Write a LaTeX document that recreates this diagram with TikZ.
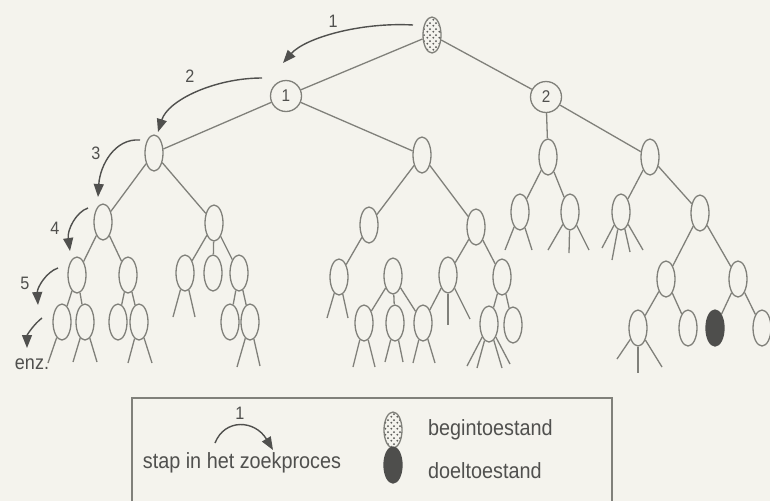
\documentclass[tikz,border=0pt]{standalone}
\usepackage{fontspec}
\setmainfont{Liberation Sans}[FakeStretch=0.9]
\usetikzlibrary{shapes.geometric,arrows.meta,patterns.meta}

\definecolor{paper}{RGB}{244,243,237}
\definecolor{linegray}{RGB}{128,128,122}
\definecolor{ink}{RGB}{80,80,78}
\definecolor{goalfill}{RGB}{78,78,76}

% stippled fill for the start state
\tikzdeclarepattern{
  name=stipple, type=uncolored,
  tile size={(6pt,6pt)},
  bottom left={(0pt,0pt)}, top right={(6pt,6pt)},
  code={\draw[line width=0.5pt] (1.5pt,1.5pt) circle[radius=0.8pt];
        \draw[line width=0.5pt] (4.5pt,4.5pt) circle[radius=0.8pt];}
}

\tikzset{
  state/.style={ellipse, draw=linegray, line width=1.3pt,
    minimum width=18pt, minimum height=36pt, inner sep=0pt},
  numbered/.style={circle, draw=linegray, line width=1.3pt,
    minimum size=31pt, inner sep=0pt, text=ink,
    font=\fontsize{17}{17}\selectfont},
  startstate/.style={state, pattern=stipple, pattern color=ink},
  goalstate/.style={state, fill=goalfill, draw=goalfill},
  edge/.style={draw=linegray, line width=1.3pt},
  steparrow/.style={draw=ink, line width=1.4pt,
    -{Triangle[length=13pt,width=10pt]}},
  lbl/.style={text=ink, inner sep=0pt, font=\fontsize{18}{18}\selectfont},
  legendtext/.style={text=ink, inner sep=0pt, font=\fontsize{22}{22}\selectfont},
}

% open branches hanging below a node: \stubs{node}{x1/y1, x2/y2, ...}
\newcommand\stubs[2]{%
  \foreach \sx/\sy [count=\k] in {#2} {%
    \coordinate (#1-s\k) at (\sx,\sy);
    \draw[edge] (#1) -- (#1-s\k);
  }}

\begin{document}
\begin{tikzpicture}[x=1pt,y=-1pt]
\fill[paper] (0,0) rectangle (770,501);
\useasboundingbox (0,0) rectangle (770,501);

% ---- search tree ----
\node[startstate] (root) at (432,35) {};
\node[numbered] (c1) at (286,96) {1};
\node[numbered] (c2) at (546,97) {2};

\node[state] (A) at (154,153) {};
\node[state] (B) at (422,155) {};
\node[state] (C) at (548,157) {};
\node[state] (D) at (650,157) {};

% left part under A
\node[state] (A1)   at (103,222) {};
\node[state] (A2)   at (214,223) {};
\node[state] (A11)  at (77,275) {};
\node[state] (A12)  at (128,275) {};
\node[state] (A111) at (62,322) {};
\node[state] (A112) at (85,322) {};
\node[state] (A121) at (118,322) {};
\node[state] (A122) at (139,322) {};
\node[state] (A21)  at (185,273) {};
\node[state] (A22)  at (213,273) {};
\node[state] (A23)  at (239,273) {};
\node[state] (A231) at (230,322) {};
\node[state] (A232) at (250,322) {};

% part under B
\node[state] (B1)   at (369,225) {};
\node[state] (B2)   at (476,227) {};
\node[state] (B11)  at (339,277) {};
\node[state] (B12)  at (393,276) {};
\node[state] (B121) at (364,323) {};
\node[state] (B122) at (395,323) {};
\node[state] (BX)   at (423,323) {};
\node[state] (B21)  at (448,275) {};
\node[state] (B22)  at (502,277) {};
\node[state] (B221) at (489,324) {};
\node[state] (B222) at (513,325) {};

% part under C and D
\node[state] (C1)   at (520,212) {};
\node[state] (C2)   at (570,212) {};
\node[state] (D1)   at (621,212) {};
\node[state] (D2)   at (700,213) {};
\node[state] (D21)  at (666,279) {};
\node[state] (D22)  at (738,279) {};
\node[state] (D211) at (638,328) {};
\node[state] (D212) at (688,328) {};
\node[goalstate] (goal) at (715,328) {};
\node[state] (D222) at (762,328) {};

% branches
\draw[edge] (root) -- (c1);
\draw[edge] (root) -- (c2);
\draw[edge] (c1) -- (A);
\draw[edge] (c1) -- (B);
\draw[edge] (c2) -- (C);
\draw[edge] (c2) -- (D);
\draw[edge] (A) -- (A1);
\draw[edge] (A) -- (A2);
\draw[edge] (A1) -- (A11);
\draw[edge] (A1) -- (A12);
\draw[edge] (A11) -- (A111);
\draw[edge] (A11) -- (A112);
\draw[edge] (A12) -- (A121);
\draw[edge] (A12) -- (A122);
\draw[edge] (A2) -- (A21);
\draw[edge] (A2) -- (A22);
\draw[edge] (A2) -- (A23);
\draw[edge] (A23) -- (A231);
\draw[edge] (A23) -- (A232);
\draw[edge] (B) -- (B1);
\draw[edge] (B) -- (B2);
\draw[edge] (B1) -- (B11);
\draw[edge] (B12) -- (B121);
\draw[edge] (B12) -- (B122);
\draw[edge] (B12) -- (BX);
\draw[edge] (B2) -- (B21);
\draw[edge] (B2) -- (B22);
\draw[edge] (B21) -- (BX);
\draw[edge] (B22) -- (B221);
\draw[edge] (B22) -- (B222);
\draw[edge] (D) -- (D1);
\draw[edge] (D) -- (D2);
\draw[edge] (C) -- (C1);
\draw[edge] (C) -- (C2);
\draw[edge] (D2) -- (D21);
\draw[edge] (D2) -- (D22);
\draw[edge] (D21) -- (D211);
\draw[edge] (D21) -- (D212);
\draw[edge] (D22) -- (goal);
\draw[edge] (D22) -- (D222);

% open branches
\stubs{A111}{48/363}
\stubs{A112}{73/362, 97/362}
\stubs{A122}{128/363, 152/363}
\stubs{A21}{173/317, 195/317}
\stubs{A232}{237/367, 260/366}
\stubs{B11}{327/318, 348/318}
\stubs{B121}{353/367, 375/367}
\stubs{B122}{385/362, 403/362}
\stubs{BX}{413/363, 435/363}
\stubs{B21}{448/325, 470/319}
\stubs{B221}{467/366, 477/368, 502/368, 510/364}
\stubs{C1}{505/250, 532/250}
\stubs{C2}{548/250, 569/253, 589/250}
\stubs{D1}{602/248, 612/260, 630/252, 643/250}
\stubs{D211}{617/359, 638/373, 662/367}

% ---- order of the search steps ----
\coordinate (p1s) at (413,25);  \coordinate (p1e) at (283,63);
\coordinate (p2s) at (262,78);  \coordinate (p2e) at (158,132);
\coordinate (p3s) at (140,140); \coordinate (p3e) at (98,197);
\coordinate (p4s) at (88,208);  \coordinate (p4e) at (70,251);
\coordinate (p5s) at (58,268);  \coordinate (p5e) at (38,305);
\coordinate (p6s) at (42,318);  \coordinate (p6e) at (27,348);
\draw[steparrow] (p1s) .. controls (360,22) and (305,38) .. (p1e);
\draw[steparrow] (p2s) .. controls (215,78) and (168,100) .. (p2e);
\draw[steparrow] (p3s) .. controls (115,138) and (100,165) .. (p3e);
\draw[steparrow] (p4s) .. controls (76,212) and (67,230) .. (p4e);
\draw[steparrow] (p5s) .. controls (46,272) and (37,288) .. (p5e);
\draw[steparrow] (p6s) .. controls (34,324) and (27,335) .. (p6e);
\node[lbl] (l1) at (333,21) {1};
\node[lbl] (l2) at (190,76) {2};
\node[lbl] (l3) at (96,153) {3};
\node[lbl] (l4) at (55,228) {4};
\node[lbl] (l5) at (25,283) {5};
\node[legendtext, font=\fontsize{20}{20}\selectfont] (enz) at (32,364) {enz.};

% ---- legend ----
\draw[draw=linegray, line width=1.2pt] (132,501) -- (132,398) -- (612,398) -- (612,501);
\coordinate (lgs) at (215,443); \coordinate (lge) at (273,450);
\draw[steparrow] (lgs) .. controls (225,418) and (255,420) .. (lge);
\node[lbl] (lg1) at (240,413) {1};
\node[legendtext] (lgstep) at (242,463) {stap in het zoekproces};
\node[startstate] (lgstart) at (393,430) {};
\node[legendtext, anchor=west] (lgstarttext) at (428,430) {begintoestand};
\node[goalstate] (lggoal) at (393,465) {};
\node[legendtext, anchor=west] (lggoaltext) at (428,471) {doeltoestand};
\end{tikzpicture}
\end{document}
